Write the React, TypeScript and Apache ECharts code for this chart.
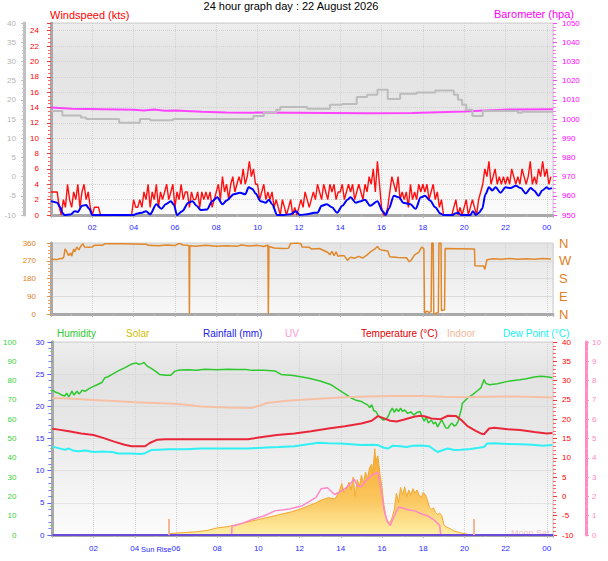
import React, { useEffect, useRef } from 'react';
import * as echarts from 'echarts';

// ---------- DATA (hours since midnight) ----------
const xMax = 24.3;
const gustStep = 0.1;
// Wind gust (kts), one value every 0.1 h, rows = hours 0..24
const gustVals = [
  3, 3, 3, 3, 1, 0, 2, 1, 4, 2,
  1, 3, 2, 4, 1, 3, 4, 2, 3, 1,
  0, 1, 1, 1, 0, 0, 0, 0, 0, 0,
  0, 0, 0, 0, 0, 0, 0, 0, 0, 0,
  2, 1, 1, 2, 1, 3, 2, 4, 1, 3,
  2, 4, 1, 3, 2, 3, 4, 2, 3, 4,
  1, 3, 2, 4, 2, 3, 3, 1, 3, 2,
  2, 3, 1, 3, 2, 3, 2, 3, 1, 2,
  3, 4, 2, 5, 3, 4, 2, 4, 5, 3,
  4, 5, 4, 6, 4, 5, 7, 5, 6, 4,
  4, 2, 3, 4, 2, 3, 2, 3, 1, 2,
  1, 0, 2, 1, 0, 1, 2, 0, 1, 0,
  1, 2, 1, 3, 2, 1, 2, 3, 2, 4,
  3, 2, 4, 3, 2, 4, 3, 4, 2, 3,
  3, 4, 2, 3, 4, 3, 4, 2, 3, 4,
  3, 2, 4, 3, 5, 4, 6, 3, 7, 4,
  1, 0, 0, 1, 3, 5, 4, 3, 5, 2,
  3, 2, 3, 1, 4, 2, 3, 2, 4, 3,
  4, 3, 4, 2, 3, 4, 2, 3, 1, 2,
  0, 0, 0, 0, 0, 1, 2, 0, 1, 0,
  1, 2, 0, 1, 2, 1, 0, 2, 3, 4,
  6, 5, 7, 4, 5, 6, 4, 5, 4, 5,
  4, 5, 4, 6, 5, 4, 5, 4, 6, 5,
  4, 5, 7, 4, 5, 4, 6, 5, 7, 5,
  6, 4, 5,
];
// Average wind speed (kts) [hour, value]
const windAvg = [
  [0, 1.8], [0.15, 1.7], [0.3, 1.6], [0.45, 1.0], [0.55, 0.3], [0.65, 0], [0.95, 0.05], [1.15, 0.5], [1.3, 0.4],
  [1.5, 1.2], [1.7, 1.3], [1.85, 0.8], [2.0, 0], [4.0, 0], [4.2, 0.2], [4.4, 0.3], [4.6, 0.5], [4.8, 0.1],
  [5.1, 1.4], [5.35, 0.8], [5.55, 1.4], [5.8, 1.8], [5.95, 1.3], [6.1, 0], [6.35, 0.5], [6.65, 1.6], [6.85, 1.8],
  [7.05, 1.2], [7.25, 0.65], [7.55, 0.7], [7.8, 1.8], [8.05, 2.3], [8.3, 1.4], [8.5, 1.9], [8.85, 2.7], [9.15, 2.9],
  [9.4, 2.7], [9.57, 3.6], [9.75, 3.4], [9.9, 2.8], [10.15, 1.8], [10.4, 1.6], [10.55, 2.0], [10.7, 1.4], [10.95, 0],
  [11.25, 0], [11.6, 0.1], [11.85, 0.5], [12.05, 0], [12.4, 0.1], [12.75, 0.3], [12.9, 0.3], [13.1, 1.2], [13.35, 1.4],
  [13.6, 1.0], [13.85, 0.3], [14.1, 1.2], [14.35, 2.0], [14.5, 2.3], [14.75, 1.6], [15.0, 1.8], [15.2, 2.0], [15.45, 1.2],
  [15.8, 1.8], [16.05, 0.5], [16.2, 0], [16.35, 0.8], [16.6, 2.5], [16.85, 2.3], [17.05, 1.6], [17.4, 1.4], [17.65, 0.8],
  [17.9, 2.3], [18.1, 2.5], [18.35, 1.9], [18.6, 1.0], [18.85, 0.2], [19.0, 0], [19.45, 0], [19.55, 0.2], [19.7, 0.3],
  [19.85, 0], [20.3, 0], [20.42, 0.5], [20.56, 0], [20.72, 0.3], [20.87, 0.8], [21.03, 2.7], [21.2, 3.6], [21.36, 3.2],
  [21.52, 3.6], [21.76, 2.9], [22.0, 3.6], [22.25, 3.5], [22.5, 3.8], [22.74, 3.5], [22.98, 2.8], [23.22, 3.5],
  [23.38, 3.2], [23.6, 2.5], [23.78, 3.2], [24.0, 3.6], [24.1, 3.4], [24.25, 3.5],
];
// Grey trace on the -10..40 scale [hour, value] (stepped)
const greyTrace = [
  [0, 17.1], [0.55, 15.9], [1.45, 15.4], [1.7, 15.0], [3.3, 14.0], [4.3, 15.0], [4.8, 14.7], [5.9, 15.0],
  [9.8, 15.8], [10.3, 16.7], [10.9, 17.4], [11.1, 18.1], [12.4, 17.7], [13.5, 18.7], [14.1, 18.9], [14.8, 20.7],
  [15.3, 21.3], [15.8, 22.6], [16.3, 20.2], [16.9, 21.6], [17.7, 21.9], [18.6, 22.4], [19.5, 21.3], [19.7, 20.0],
  [19.9, 18.7], [20.1, 17.4], [20.4, 15.8], [20.9, 17.1], [22.6, 16.6], [22.8, 16.9], [24.3, 16.9],
];
// Barometer (hPa)
const baro = [
  [0, 1006], [1, 1005.4], [4, 1004.8], [4.5, 1004.4], [5, 1004.9], [5.5, 1004.3], [6, 1004.4], [7.3, 1003.8],
  [8.5, 1003.4], [15.3, 1003.0], [17.5, 1003.1], [20, 1003.9], [21, 1004.4], [22.3, 1005], [24.3, 1005.1],
];
// Wind direction (degrees)
const windDir = [
  [0, 278], [0.3, 276], [0.45, 282], [0.55, 280], [0.62, 290], [0.68, 330], [0.75, 318], [0.85, 296], [0.95, 310],
  [1.0, 292], [1.1, 330], [1.15, 315], [1.25, 340], [1.35, 325], [1.45, 345], [1.55, 356], [1.62, 340], [1.8, 338],
  [2.0, 340], [2.1, 348], [2.5, 349], [2.6, 356], [3.5, 356], [4.0, 355], [4.6, 354], [4.7, 348], [5.2, 346],
  [5.6, 350], [6.0, 347], [6.2, 358], [6.4, 350], [6.6, 348], [6.68, 346], [6.7, 0], [6.72, 346], [7.0, 344],
  [7.5, 348], [8.0, 344], [8.5, 346], [9.0, 343], [9.2, 350], [9.6, 345], [10.0, 348], [10.3, 342], [10.5, 350],
  [10.52, 0], [10.55, 342], [10.8, 335], [11.2, 332], [11.5, 333], [11.6, 358], [11.9, 360], [12.1, 356],
  [12.15, 340], [12.5, 338], [12.6, 330], [13.0, 332], [13.2, 322], [13.4, 312], [13.5, 300], [13.6, 318],
  [13.7, 296], [13.8, 315], [13.9, 292], [14.0, 296], [14.2, 295], [14.35, 272], [14.5, 288], [14.7, 283],
  [14.9, 292], [15.1, 284], [15.3, 300], [15.5, 318], [15.7, 332], [15.8, 342], [15.9, 328], [16.0, 325],
  [16.3, 320], [16.4, 290], [16.8, 286], [17.2, 285], [17.35, 265], [17.45, 275], [17.6, 300], [17.8, 312],
  [17.95, 340], [18.05, 330], [18.08, 5], [18.2, 15], [18.3, 8], [18.4, 12], [18.43, 360], [18.5, 360],
  [18.53, 5], [18.6, 0], [18.75, 10], [18.78, 360], [18.88, 360], [18.9, 18], [19.05, 20], [19.08, 332],
  [20.5, 330], [20.52, 245], [20.95, 243], [21.0, 226], [21.1, 275], [21.4, 280], [21.8, 278], [22.2, 281],
  [22.6, 277], [23.0, 280], [23.4, 278], [23.8, 282], [24.2, 279],
];
// Humidity (%)
const humidity = [
  [0, 75], [0.15, 74], [0.3, 73.5], [0.45, 72.5], [0.6, 72], [0.7, 73.5], [0.8, 71.5], [0.95, 74.5], [1.05, 72.5],
  [1.2, 74.5], [1.3, 73], [1.45, 75], [1.6, 74.5], [1.8, 76], [2.0, 77], [2.2, 78], [2.4, 79], [2.55, 81.5],
  [2.7, 82], [2.9, 83.2], [3.2, 85], [3.5, 86.6], [3.8, 88.3], [4.05, 89.2], [4.2, 88.5], [4.35, 88.8], [4.45, 89.4],
  [4.6, 87.5], [4.8, 86.3], [5.0, 84.9], [5.2, 83.2], [5.5, 82.8], [5.75, 82.8], [5.95, 84.9], [6.2, 85.5],
  [6.6, 85.6], [7.0, 85.4], [7.4, 85.9], [8.0, 85.6], [8.5, 85.9], [9.0, 85.7], [9.4, 85.8], [9.7, 85.3],
  [10.3, 85.3], [10.8, 85.0], [11.1, 83.2], [11.7, 82.6], [12.4, 81.4], [13.0, 79.8], [13.5, 78], [14.0, 74.5],
  [14.3, 72.5], [14.5, 71], [14.7, 70], [15.0, 69.2], [15.15, 68.2], [15.3, 67.4], [15.4, 66], [15.5, 67.5],
  [15.6, 64.5], [15.7, 64.0], [15.8, 62.2], [15.9, 61], [16.05, 59.6], [16.2, 60], [16.3, 61.5], [16.4, 64],
  [16.5, 65.7], [16.6, 63.5], [16.7, 65.5], [16.8, 64], [16.9, 65.7], [17.0, 64], [17.1, 64.8], [17.25, 63],
  [17.4, 63.8], [17.55, 62.2], [17.7, 63.5], [17.85, 64], [17.95, 61], [18.05, 59], [18.15, 61], [18.25, 58],
  [18.4, 59.6], [18.5, 57.5], [18.6, 58.5], [18.7, 56], [18.8, 58], [18.9, 59.6], [19.0, 57.5], [19.1, 55.5],
  [19.2, 55.3], [19.3, 57], [19.4, 58], [19.5, 56.5], [19.6, 57], [19.7, 59], [19.75, 61.3], [19.85, 65],
  [19.9, 68.3], [20.15, 70.9], [20.4, 72.7], [20.6, 74.5], [20.8, 76.2], [20.95, 80.5], [21.05, 78.5],
  [21.2, 77.9], [21.6, 78.4], [22.1, 79.6], [22.7, 80.5], [23.0, 81], [23.4, 81.9], [23.7, 82.3], [24.0, 82.0],
  [24.27, 81.5],
];
// Outdoor temperature (°C)
const temperature = [
  [0, 17.5], [0.3, 17.3], [0.8, 16.9], [1.4, 16.3], [2.0, 15.9], [2.5, 15.1], [3.0, 14.2], [3.5, 13.4], [3.85, 13.0],
  [4.5, 13.0], [4.75, 13.9], [5.1, 14.7], [5.5, 14.8], [7.0, 14.8], [8.0, 14.8], [9.5, 14.8], [10.1, 15.3],
  [10.9, 15.9], [11.75, 16.3], [12.56, 16.9], [13.4, 17.6], [14.2, 18.2], [15.0, 18.9], [15.5, 19.6], [15.8, 20.8],
  [16.1, 20.2], [16.4, 19.6], [16.7, 19.4], [17.0, 19.8], [17.25, 20.2], [17.6, 20.7], [17.9, 20.9], [18.1, 20.7],
  [18.4, 20.2], [18.85, 20.0], [19.2, 20.9], [19.6, 20.8], [19.85, 19.8], [20.15, 18.2], [20.55, 17.0],
  [20.8, 16.3], [20.95, 16.1], [21.2, 17.6], [21.45, 17.8], [22.1, 17.4], [22.7, 17.2], [23.4, 16.7], [24.0, 16.3],
  [24.27, 16.4],
];
// Indoor temperature (°C)
const indoor = [
  [0, 25.5], [1, 25.3], [2, 25.0], [3, 24.7], [4, 24.4], [5, 24.2], [5.9, 24.0], [6.6, 23.7], [7.2, 23.3],
  [8.5, 23.0], [9.65, 22.9], [10.0, 23.4], [10.4, 24.2], [11.4, 24.8], [12.9, 25.3], [14.2, 25.7], [15.3, 25.9],
  [16.5, 26.0], [17.9, 26.0], [19.0, 25.8], [20.0, 25.7], [21.0, 25.8], [22.0, 25.9], [23.0, 25.8], [24.27, 25.6],
];
// Dew point (°C)
const dewPoint = [
  [0, 12.9], [0.3, 12.5], [0.6, 12.1], [0.8, 12.4], [1.0, 11.9], [1.25, 11.7], [1.6, 11.9], [2.0, 11.5], [2.5, 11.6],
  [2.9, 11.5], [3.2, 11.1], [3.8, 11.1], [4.3, 11.0], [4.5, 11.2], [4.8, 12.0], [5.2, 12.1], [5.6, 12.2],
  [6.5, 12.2], [7.2, 12.4], [8.5, 12.4], [9.5, 12.4], [10.4, 12.7], [11.0, 12.8], [11.75, 13.0], [12.4, 13.5],
  [12.9, 13.9], [13.4, 13.8], [14.0, 13.7], [14.5, 13.5], [15.0, 13.3], [15.5, 13.4], [15.8, 13.3], [16.1, 12.6],
  [16.3, 12.4], [16.5, 13.1], [16.9, 13.0], [17.2, 12.8], [17.5, 13.1], [17.9, 13.2], [18.3, 13.0], [18.5, 12.2],
  [18.7, 11.5], [18.9, 11.9], [19.18, 12.4], [19.5, 12.0], [19.82, 12.1], [20.3, 12.3], [20.7, 12.6],
  [20.95, 12.8], [21.1, 13.7], [21.5, 13.8], [22.1, 13.6], [22.7, 13.5], [23.3, 13.4], [23.8, 13.1], [24.27, 13.3],
];
// Solar (plotted on the 0..30 left scale)
const solar = [
  [0, 0], [5.6, 0], [5.7, 0.2], [6.0, 0.3], [6.5, 0.4], [7.0, 0.5], [7.5, 0.7], [8.0, 1.1], [8.5, 1.3], [8.8, 1.5],
  [9.2, 1.8], [9.6, 2.1], [10.0, 2.4], [10.4, 2.7], [10.8, 3.0], [11.2, 3.3], [11.6, 3.6], [12.0, 4.0], [12.4, 4.5],
  [12.8, 5.0], [13.1, 5.5], [13.4, 5.8], [13.7, 5.6], [13.9, 6.5], [14.05, 8.0], [14.15, 6.6], [14.3, 7.4],
  [14.4, 8.2], [14.5, 7.0], [14.6, 9.0], [14.7, 6.0], [14.8, 8.6], [14.9, 7.5], [15.0, 9.3], [15.1, 8.0],
  [15.2, 9.8], [15.3, 8.8], [15.4, 10.5], [15.5, 11.0], [15.55, 9.5], [15.65, 13.4], [15.7, 11.5], [15.8, 12.3],
  [15.9, 9.5], [16.0, 7.4], [16.1, 4.5], [16.2, 2.7], [16.3, 2.0], [16.4, 2.0], [16.5, 2.8], [16.6, 4.0],
  [16.7, 6.5], [16.8, 5.0], [16.9, 7.4], [17.0, 6.2], [17.1, 7.5], [17.2, 6.0], [17.3, 7.0], [17.4, 6.2],
  [17.5, 7.2], [17.6, 6.5], [17.7, 7.0], [17.8, 6.2], [17.9, 5.8], [18.0, 6.6], [18.1, 6.3], [18.2, 5.5],
  [18.3, 4.3], [18.4, 4.0], [18.5, 4.2], [18.6, 3.5], [18.7, 3.2], [18.8, 3.4], [18.9, 3.0], [19.0, 1.6],
  [19.1, 1.3], [19.3, 1.0], [19.5, 0.6], [19.8, 0.35], [20.1, 0.15], [20.3, 0], [24.3, 0],
];
// UV index
const uv = [
  [0, 0], [8.7, 0], [8.72, 0.45], [9.2, 0.6], [9.7, 0.8], [10.3, 1.0], [10.8, 1.25], [11.5, 1.35], [12.1, 1.5],
  [12.5, 1.75], [12.8, 1.95], [13.05, 2.4], [13.35, 2.45], [13.7, 2.1], [13.9, 2.2], [14.2, 2.4], [14.5, 2.7],
  [14.65, 2.9], [14.8, 2.55], [15.0, 2.5], [15.2, 2.8], [15.4, 3.0], [15.6, 3.15], [15.8, 3.25], [15.95, 2.4],
  [16.1, 1.3], [16.25, 0.7], [16.4, 0.5], [16.6, 1.0], [16.8, 1.45], [17.0, 1.4], [17.3, 1.3], [17.6, 1.25],
  [17.9, 1.1], [18.2, 1.0], [18.5, 0.8], [18.8, 0.5], [18.85, 0], [24.3, 0],
];
// Rainfall (mm)
const rainfall = [[0, 0], [24.3, 0]];
// Sunrise / sunset marker times and marker height (on 0..30 scale)
const sunEvents = [5.67, 20.43];
const sunMarkHeight = 2.5;

const titleText = '24 hour graph day : 22 August 2026';
const legendNames = ['Humidity', 'Solar', 'Rainfall (mm)', 'UV', 'Temperature (°C)', 'Indoor', 'Dew Point (°C)'];
const compass: Record<number, string> = { 0: 'N', 90: 'E', 180: 'S', 270: 'W', 360: 'N' };

// ---------- LAYOUT / STYLE ----------
const FONT = '"Liberation Sans", Arial, Helvetica, sans-serif';
const legendX = [57, 126, 203, 285, 361, 447, 503];
const legendColors = ['#2ec82e', '#d2c000', '#2020e8', '#ff9ad0', '#e00000', '#f2b898', '#20f0f0'];
const GL = 51;
const GW = 502;
const tickLabelFontSize = 8;

function hourLabel(v: number) {
  const r = Math.round(v);
  if (Math.abs(v - r) > 1e-6 || r === 0 || r % 2 !== 0) return '';
  const h = r % 24;
  return (h < 10 ? '0' : '') + h;
}

function txt(text: string, x: number, y: number, color: string, size: number, align = 'left') {
  return {
    type: 'text',
    x,
    y,
    silent: true,
    style: {
      text,
      fill: color,
      font: `${size}px ${FONT}`,
      align,
      textAlign: align,
      verticalAlign: 'middle',
      textVerticalAlign: 'middle',
    },
  };
}

export default function App() {
  const ref = useRef<HTMLDivElement>(null);

  useEffect(() => {
    if (!ref.current) return;
    const chart = echarts.init(ref.current, undefined, { renderer: 'svg' });

    const bgMain = new echarts.graphic.LinearGradient(0, 0, 0, 1, [
      { offset: 0, color: '#eeeeee' },
      { offset: 0.18, color: '#e3e3e3' },
      { offset: 0.45, color: '#e7e7e7' },
      { offset: 0.62, color: '#efefef' },
      { offset: 1, color: '#fbfbfb' },
    ]);
    const bgMid = new echarts.graphic.LinearGradient(0, 0, 0, 1, [
      { offset: 0, color: '#e4e4e4' },
      { offset: 1, color: '#f8f8f8' },
    ]);
    const solarFill = new echarts.graphic.LinearGradient(0, 0, 0, 1, [
      { offset: 0, color: '#f6a82a' },
      { offset: 0.6, color: '#fbc760' },
      { offset: 1, color: '#fff0a8' },
    ]);

    const split = { show: true, lineStyle: { color: '#d2d2d2', type: 'dotted', width: 1 } };
    const frameAxis = (gridIndex: number) => ({
      type: 'value', gridIndex, position: 'left', offset: 0, min: 0, max: 1,
      axisLine: { show: true, lineStyle: { color: '#a9a9a9', width: 3 } },
      axisTick: { show: false }, axisLabel: { show: false }, splitLine: { show: false },
    });
    const xAxis = (gridIndex: number, showLabel: boolean, margin: number) => ({
      type: 'value', gridIndex, min: 0, max: xMax, interval: 2,
      axisLine: { show: true, onZero: false, lineStyle: { color: '#a9a9a9', width: 3 } },
      axisTick: { show: true, length: 3, lineStyle: { color: '#b4b4b4' } },
      minorTick: { show: true, splitNumber: 2, length: 2, lineStyle: { color: '#c0c0c0' } },
      axisLabel: {
        show: showLabel, color: '#2a2aff', fontSize: tickLabelFontSize, fontFamily: FONT, margin,
        formatter: hourLabel, showMinLabel: false, showMaxLabel: false,
      },
      splitLine: split,
    });
    const yAxis = (o: any) => ({
      type: 'value',
      axisLine: { show: false },
      splitLine: { show: false },
      ...o,
    });

    const graphic: any[] = [
      txt(titleText, 291, 6, '#000000', 11, 'center'),
      txt('Windspeed (kts)', 50, 15, '#ff0000', 11),
      txt('Barometer (hpa)', 574, 14, '#ff00ff', 11, 'right'),
      txt('Sun Rise', 141, 549, '#2a2aff', 7.5),
      txt('Moon Set', 511, 533, '#f4c4c4', 9),
    ];
    legendNames.forEach((n, i) => graphic.push(txt(n, legendX[i], 333, legendColors[i], 10)));

    const option: any = {
      animation: false,
      backgroundColor: '#ffffff',
      textStyle: { fontFamily: FONT },
      grid: [
        { left: GL, top: 23, width: GW, height: 192, show: true, backgroundColor: bgMain, borderColor: '#cfcfcf', borderWidth: 1 },
        { left: GL, top: 243, width: GW, height: 71, show: true, backgroundColor: bgMid, borderColor: '#cfcfcf', borderWidth: 1 },
        { left: GL, top: 342, width: GW, height: 193, show: true, backgroundColor: bgMain, borderColor: '#cfcfcf', borderWidth: 1 },
      ],
      xAxis: [xAxis(0, true, 8), xAxis(1, false, 7), xAxis(2, true, 9)],
      yAxis: [
        // 0 windspeed
        yAxis({
          gridIndex: 0, position: 'left', offset: 4, min: 0, max: 25, interval: 2,
          axisTick: { show: true, length: 4, lineStyle: { color: '#ff3030' } },
          minorTick: { show: true, splitNumber: 4, length: 3, lineStyle: { color: '#ff6060' } },
          axisLabel: { color: '#ff0000', fontSize: tickLabelFontSize, fontFamily: FONT, margin: 8, formatter: (v: number) => (v % 2 === 0 && v <= 24 ? String(v) : '') },
          splitLine: split,
        }),
        // 1 grey -10..40
        yAxis({
          gridIndex: 0, position: 'left', offset: 27, min: -10, max: 40, interval: 5,
          axisLine: { show: true, lineStyle: { color: '#c0c0c0', width: 3 } },
          axisTick: { show: true, length: 3, lineStyle: { color: '#c0c0c0' } },
          minorTick: { show: true, splitNumber: 5, length: 2, lineStyle: { color: '#cacaca' } },
          axisLabel: { color: '#b4b4b4', fontSize: tickLabelFontSize, fontFamily: FONT, margin: 8 },
        }),
        // 2 barometer
        yAxis({
          gridIndex: 0, position: 'right', offset: 0, min: 950, max: 1050, interval: 10,
          axisTick: { show: true, length: 4, lineStyle: { color: '#ff40ff' } },
          minorTick: { show: true, splitNumber: 5, length: 3, lineStyle: { color: '#ff70ff' } },
          axisLabel: { color: '#ff00ff', fontSize: tickLabelFontSize, fontFamily: FONT, margin: 9, formatter: (v: number) => String(v) },
        }),
        // 3 frame top
        frameAxis(0),
        // 4 direction
        yAxis({
          gridIndex: 1, position: 'left', offset: 4, min: 0, max: 360, interval: 90,
          axisTick: { show: true, length: 4, lineStyle: { color: '#e8903a' } },
          minorTick: { show: true, splitNumber: 5, length: 3, lineStyle: { color: '#eca060' } },
          axisLabel: { color: '#e0801c', fontSize: tickLabelFontSize, fontFamily: FONT, margin: 11 },
          splitLine: { show: true, lineStyle: { color: '#dadada', width: 1 } },
        }),
        // 5 compass
        yAxis({
          gridIndex: 1, position: 'right', offset: 0, min: 0, max: 360, interval: 90,
          axisTick: { show: false },
          axisLabel: {
            color: '#e0801c', fontSize: 13, fontFamily: FONT, margin: 6,
            formatter: (v: number) => compass[v] || '',
          },
        }),
        // 6 frame mid
        frameAxis(1),
        // 7 humidity
        yAxis({
          gridIndex: 2, position: 'left', offset: 27, min: 0, max: 100, interval: 10,
          axisLine: { show: true, lineStyle: { color: '#22c822', width: 3 } },
          axisTick: { show: true, length: 3, lineStyle: { color: '#22c822' } },
          minorTick: { show: true, splitNumber: 2, length: 2, lineStyle: { color: '#50d850' } },
          axisLabel: { color: '#3ad03a', fontSize: tickLabelFontSize, fontFamily: FONT, margin: 9 },
        }),
        // 8 rainfall / solar
        yAxis({
          gridIndex: 2, position: 'left', offset: 1, min: 0, max: 30, interval: 5,
          axisTick: { show: true, length: 4, lineStyle: { color: '#6060ff' } },
          minorTick: { show: true, splitNumber: 5, length: 3, lineStyle: { color: '#8080ff' } },
          axisLabel: { color: '#2a2aff', fontSize: tickLabelFontSize, fontFamily: FONT, margin: 7 },
          splitLine: split,
        }),
        // 9 temperature
        yAxis({
          gridIndex: 2, position: 'right', offset: 0, min: -10, max: 40, interval: 5,
          axisTick: { show: true, length: 4, lineStyle: { color: '#ff3030' } },
          minorTick: { show: true, splitNumber: 5, length: 3, lineStyle: { color: '#ff6060' } },
          axisLabel: { color: '#ff0000', fontSize: tickLabelFontSize, fontFamily: FONT, margin: 9 },
        }),
        // 10 UV
        yAxis({
          gridIndex: 2, position: 'right', offset: 33, min: 0, max: 10, interval: 1,
          axisLine: { show: true, lineStyle: { color: '#ff8cc8', width: 3 } },
          axisTick: { show: true, length: 3, lineStyle: { color: '#ff8cc8' } },
          minorTick: { show: true, splitNumber: 2, length: 2, lineStyle: { color: '#ffa8d8' } },
          axisLabel: { color: '#ff88c4', fontSize: tickLabelFontSize, fontFamily: FONT, margin: 6 },
        }),
        // 11 frame bottom
        frameAxis(2),
      ],
      graphic,
      series: [
        {
          type: 'line', name: 'Barometer', xAxisIndex: 0, yAxisIndex: 2, data: baro, symbol: 'none',
          lineStyle: { color: '#ff44ff', width: 2 },
        },
        {
          type: 'line', name: 'Grey', xAxisIndex: 0, yAxisIndex: 1, data: greyTrace, step: 'end', symbol: 'none',
          lineStyle: { color: '#bcbcbc', width: 2 },
        },
        {
          type: 'line', name: 'Gust', xAxisIndex: 0, yAxisIndex: 0,
          data: gustVals.map((v, i) => [+(i * gustStep).toFixed(2), v]), symbol: 'none',
          lineStyle: { color: '#ff1010', width: 1.4 },
        },
        {
          type: 'line', name: 'Wind', xAxisIndex: 0, yAxisIndex: 0, data: windAvg, smooth: 0.3, smoothMonotone: 'x',
          symbol: 'none', lineStyle: { color: '#0000ff', width: 2 },
        },
        {
          type: 'line', name: 'Direction', xAxisIndex: 1, yAxisIndex: 4, data: windDir, symbol: 'none',
          lineStyle: { color: '#e0882a', width: 1.5 },
        },
        {
          type: 'line', name: 'Solar', xAxisIndex: 2, yAxisIndex: 8, data: solar, symbol: 'none',
          lineStyle: { color: '#f2a830', width: 1 }, areaStyle: { color: solarFill, opacity: 1 },
        },
        {
          type: 'line', name: 'UV', xAxisIndex: 2, yAxisIndex: 10, data: uv, symbol: 'none',
          lineStyle: { color: '#ff88c8', width: 1.5 },
        },
        {
          type: 'line', name: 'Humidity', xAxisIndex: 2, yAxisIndex: 7, data: humidity, symbol: 'none',
          lineStyle: { color: '#2ec82e', width: 1.5 },
        },
        {
          type: 'line', name: 'Indoor', xAxisIndex: 2, yAxisIndex: 9, data: indoor, symbol: 'none',
          lineStyle: { color: '#f6c0a4', width: 2 },
        },
        {
          type: 'line', name: 'Temperature', xAxisIndex: 2, yAxisIndex: 9, data: temperature, symbol: 'none',
          lineStyle: { color: '#e8283a', width: 2 },
        },
        {
          type: 'line', name: 'Dew Point', xAxisIndex: 2, yAxisIndex: 9, data: dewPoint, symbol: 'none',
          lineStyle: { color: '#30f0f4', width: 2 },
        },
        {
          type: 'line', name: 'Rainfall', xAxisIndex: 2, yAxisIndex: 8, data: rainfall, symbol: 'none',
          lineStyle: { color: '#6a4ad8', width: 2 },
          markLine: {
            silent: true, symbol: 'none', label: { show: false }, animation: false,
            lineStyle: { color: '#f4b898', width: 2, type: 'solid' },
            data: sunEvents.map((t) => [{ coord: [t, 0] }, { coord: [t, sunMarkHeight] }]),
          },
        },
      ],
    };

    chart.setOption(option);
    return () => chart.dispose();
  }, []);

  return (
    <div
      ref={ref}
      style={{ position: 'fixed', left: 0, top: 0, width: 608, height: 561, background: '#ffffff' }}
    />
  );
}
